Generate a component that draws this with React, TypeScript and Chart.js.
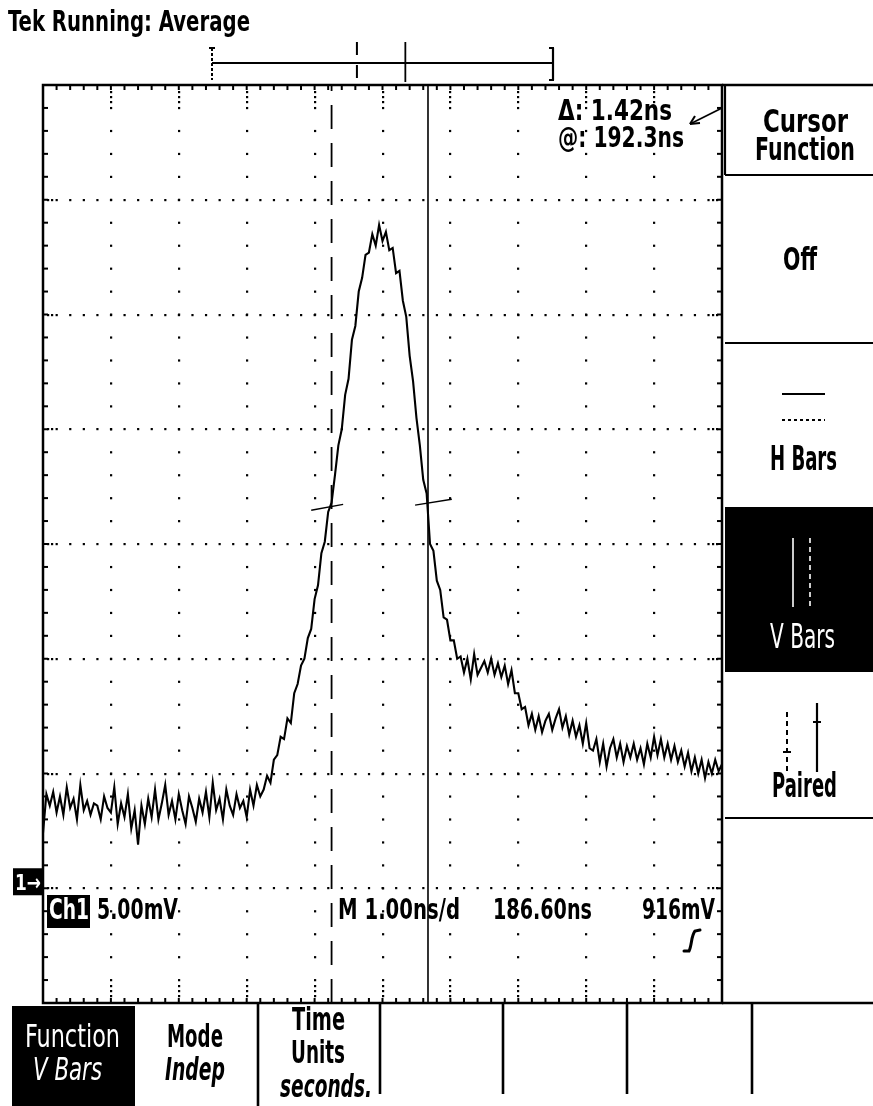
import React, { useEffect, useRef } from "react";
import { Chart, registerables } from "chart.js";

Chart.register(...registerables);

const W = 873;
const H = 1106;

// ---- Data (time in ns / divisions, voltage in mV, 5 mV/div) ----
const sampleStepNs = 0.05;
const traceMv = [
  2.4, 4.1, 3.6, 4.2, 3.3, 4.0, 3.2, 4.4, 3.5, 3.9,
  3.0, 4.5, 3.4, 3.8, 3.2, 3.7, 3.6, 3.0, 4.0, 3.5,
  3.3, 4.4, 2.8, 3.7, 3.1, 4.1, 2.6, 3.4, 1.9, 3.6,
  2.8, 3.9, 3.1, 4.3, 3.0, 3.7, 4.5, 3.2, 3.8, 3.0,
  4.1, 3.4, 2.8, 4.0, 3.5, 2.9, 3.9, 3.3, 4.2, 3.1,
  4.6, 3.4, 3.9, 3.0, 4.3, 3.6, 3.2, 4.1, 3.5, 3.8,
  3.1, 4.3, 3.6, 4.5, 4.0,
  4.3, 4.9, 4.6, 5.6, 5.8, 6.6, 6.5, 7.4, 7.2, 8.5,
  8.9, 9.7, 10.0, 10.9, 11.3, 12.6, 13.2, 14.6, 15.1, 16.4,
  16.8, 18.0, 19.3, 20.0, 21.5, 22.2, 23.9, 24.5, 26.0, 26.6,
  27.6, 27.7, 28.5, 28.0, 28.9, 28.2, 28.6, 27.8, 27.9, 26.8,
  26.9, 25.6, 24.9, 23.2, 22.1, 20.5, 19.3, 17.8, 17.2, 15.0,
  14.7, 13.4, 13.0, 11.8, 11.7, 10.8, 10.8, 10.0, 10.1, 9.4,
  10.0, 9.1, 10.2, 9.3, 9.6, 9.9, 9.4, 10.0, 9.3, 9.8,
  9.2, 9.7, 8.9, 9.5, 8.5, 8.5, 7.8, 7.9, 7.1, 7.6,
  6.9, 7.5, 6.8, 7.3, 7.6, 6.9, 7.4, 7.8, 7.0, 7.5,
  6.7, 7.3, 6.6, 7.1, 6.3, 7.2, 6.1, 6.0, 6.5, 5.5,
  6.3, 5.3, 6.1, 6.5, 5.7, 6.3, 5.5, 6.2, 5.7, 6.3,
  5.6, 6.1, 5.4, 6.3, 5.7, 6.6, 5.8, 6.5, 5.7, 6.3,
  5.6, 6.2, 5.5, 6.0, 5.3, 5.9, 5.1, 5.7, 5.0, 5.6,
  4.8, 5.5, 5.0, 5.6, 5.1, 5.4,
];

const xMinNs = 0;
const xMaxNs = 10;
const yMinMv = -5;
const yMaxMv = 35;
const xMajorNs = [1, 2, 3, 4, 5, 6, 7, 8, 9];
const yMajorMv = [0, 5, 10, 15, 20, 25, 30];
const xMinorStepNs = 0.2;
const yMinorStepMv = 1;
const groundMv = 0;

const cursorDashedNs = 4.25;
const cursorSolidNs = 5.67;
const crossDashedX = [3.95, 4.42];
const crossDashedY = [16.47, 16.73];
const crossSolidX = [5.48, 6.02];
const crossSolidY = [16.69, 16.95];

const readoutDelta = "Δ: 1.42ns";
const readoutAt = "@: 192.3ns";
const titleText = "Tek Running: Average";

const FONT = '"Liberation Sans Narrow", "DejaVu Sans Condensed", "Liberation Sans", "DejaVu Sans", sans-serif';

function txt(
  ctx: CanvasRenderingContext2D,
  s: string,
  left: number,
  right: number,
  baseline: number,
  size: number,
  opts: { bold?: boolean; italic?: boolean; color?: string } = {}
) {
  ctx.save();
  const bold = opts.bold === false ? "" : "bold ";
  const it = opts.italic ? "italic " : "";
  ctx.font = `${it}${bold}${size}px ${FONT}`;
  ctx.fillStyle = opts.color || "#000";
  ctx.textBaseline = "alphabetic";
  ctx.textAlign = "left";
  const w = ctx.measureText(s).width || 1;
  ctx.translate(left, baseline);
  ctx.scale((right - left) / w, 1);
  ctx.fillText(s, 0, 0);
  ctx.restore();
}

function line(ctx: CanvasRenderingContext2D, x1: number, y1: number, x2: number, y2: number, w = 2, color = "#000", dash: number[] = []) {
  ctx.save();
  ctx.strokeStyle = color;
  ctx.lineWidth = w;
  ctx.setLineDash(dash);
  ctx.beginPath();
  ctx.moveTo(x1, y1);
  ctx.lineTo(x2, y2);
  ctx.stroke();
  ctx.restore();
}

const graticulePlugin = {
  id: "graticule",
  beforeDatasetsDraw(chart: any) {
    const { ctx, chartArea: a, scales } = chart;
    const x = scales.x;
    const y = scales.y;
    ctx.save();
    ctx.fillStyle = "#000";
    for (const k of xMajorNs) {
      const px = Math.round(x.getPixelForValue(k));
      for (let v = yMinMv + yMinorStepMv; v < yMaxMv - 0.01; v += yMinorStepMv) {
        const py = y.getPixelForValue(v);
        ctx.fillRect(px - 1, py - 1, 2.2, 2.2);
      }
      for (const d of [7, 12, 17]) {
        ctx.fillRect(px - 1, a.top + d - 1, 2.2, 2.2);
        ctx.fillRect(px - 1, a.bottom - d - 1, 2.2, 2.2);
      }
    }
    for (const m of yMajorMv) {
      const py = Math.round(y.getPixelForValue(m));
      for (let t = xMinNs + xMinorStepNs; t < xMaxNs - 0.01; t += xMinorStepNs) {
        const px = x.getPixelForValue(t);
        ctx.fillRect(px - 1, py - 1, 2.2, 2.2);
      }
      for (const d of [5, 9]) {
        ctx.fillRect(a.left + d - 1, py - 1, 2.2, 2.2);
        ctx.fillRect(a.right - d - 1, py - 1, 2.2, 2.2);
      }
    }
    for (let t = xMinNs + xMinorStepNs; t < xMaxNs - 0.01; t += xMinorStepNs) {
      const px = x.getPixelForValue(t);
      ctx.fillRect(px - 1, a.top, 2, 5);
      ctx.fillRect(px - 1, a.bottom - 5, 2, 5);
    }
    for (let v = yMinMv + yMinorStepMv; v < yMaxMv - 0.01; v += yMinorStepMv) {
      const py = y.getPixelForValue(v);
      ctx.fillRect(a.left, py - 1, 5, 2);
      ctx.fillRect(a.right - 5, py - 1, 5, 2);
    }
    ctx.strokeStyle = "#000";
    ctx.lineWidth = 2.5;
    ctx.strokeRect(a.left, a.top, a.right - a.left, a.bottom - a.top);
    ctx.restore();
  },
};

const overlayPlugin = {
  id: "overlay",
  afterDraw(chart: any) {
    const { ctx, chartArea: a, scales } = chart;
    const y = scales.y;
    ctx.save();

    txt(ctx, titleText, 8, 250, 31, 28);

    const barL = 212;
    const barR = 553;
    const barY = 63;
    line(ctx, barL, barY, barR, barY, 2.2);
    line(ctx, barL, 48, barL, 80, 2, "#000", [3, 2]);
    line(ctx, barL - 3, 48, barL + 3, 48, 2);
    line(ctx, barR, 48, barR, 80, 2.2);
    line(ctx, barR - 4, 48, barR + 1, 48, 2);
    line(ctx, barR - 4, 80, barR + 1, 80, 2);
    const toBar = (t: number) => barL + ((t - xMinNs) / (xMaxNs - xMinNs)) * (barR - barL);
    line(ctx, toBar(cursorDashedNs), 42, toBar(cursorDashedNs), 82, 2, "#000", [13, 10]);
    line(ctx, toBar(cursorSolidNs), 42, toBar(cursorSolidNs), 82, 1.8);

    txt(ctx, readoutDelta, 558, 672, 120, 29);
    txt(ctx, readoutAt, 558, 684, 147, 29);
    line(ctx, 722, 108, 690, 124, 1.8);
    line(ctx, 690, 124, 700, 123, 2);
    line(ctx, 690, 124, 695, 116, 2);

    const gy = y.getPixelForValue(groundMv);
    ctx.fillStyle = "#000";
    ctx.fillRect(13, gy - 20, 30, 27);
    txt(ctx, "1→", 15, 41, gy + 2, 22, { color: "#fff" });
    ctx.fillStyle = "#000";
    ctx.fillRect(47, 895, 43, 33);
    txt(ctx, "Ch1", 49, 89, 919, 29, { color: "#fff" });
    txt(ctx, "5.00mV", 97, 178, 919, 29);
    txt(ctx, "M 1.00ns/d", 338, 460, 919, 29);
    txt(ctx, "186.60ns", 493, 592, 919, 29);
    txt(ctx, "916mV", 642, 715, 919, 29);
    ctx.save();
    ctx.strokeStyle = "#000";
    ctx.lineWidth = 3;
    ctx.lineCap = "round";
    ctx.beginPath();
    ctx.moveTo(684, 951);
    ctx.lineTo(689, 951);
    ctx.bezierCurveTo(692, 945, 691, 936, 695, 931);
    ctx.lineTo(700, 930);
    ctx.stroke();
    ctx.restore();

    line(ctx, a.right, a.top, W, a.top, 2.5);
    line(ctx, 725, a.top, 725, 175, 2.2);
    line(ctx, 725, 175, W, 175, 2.2);
    txt(ctx, "Cursor", 763, 848, 132, 32);
    txt(ctx, "Function", 755, 855, 160, 32);
    txt(ctx, "Off", 783, 817, 270, 32);
    line(ctx, 725, 343, W, 343, 2.2);
    line(ctx, 782, 394, 825, 394, 2);
    line(ctx, 782, 420, 825, 420, 2, "#000", [3, 3]);
    txt(ctx, "H Bars", 770, 837, 470, 34);
    ctx.fillStyle = "#000";
    ctx.fillRect(725, 507, W - 725, 165);
    line(ctx, 793, 538, 793, 607, 1.6, "#fff");
    line(ctx, 810, 538, 810, 607, 1.6, "#fff", [5, 4]);
    txt(ctx, "V Bars", 770, 835, 648, 34, { bold: false, color: "#fff" });
    line(ctx, 787, 712, 787, 773, 2, "#000", [5, 4]);
    line(ctx, 783, 752, 791, 752, 2);
    line(ctx, 817, 703, 817, 772, 2.2);
    line(ctx, 813, 722, 821, 722, 2);
    txt(ctx, "Paired", 772, 837, 797, 33);
    line(ctx, 725, 818, W, 818, 2.2);

    line(ctx, a.right, a.bottom, W, a.bottom, 2.5);
    ctx.fillStyle = "#000";
    ctx.fillRect(12, 1006, 123, H - 1006);
    txt(ctx, "Function", 25, 120, 1047, 32, { bold: false, color: "#fff" });
    txt(ctx, "V Bars", 33, 102, 1080, 32, { bold: false, italic: true, color: "#fff" });
    txt(ctx, "Mode", 167, 223, 1047, 32);
    txt(ctx, "Indep", 165, 225, 1080, 32, { italic: true });
    txt(ctx, "Time", 292, 345, 1030, 32);
    txt(ctx, "Units", 291, 345, 1063, 32);
    txt(ctx, "seconds.", 280, 372, 1097, 32, { italic: true });
    for (const sx of [258, 380, 503, 627, 752]) {
      line(ctx, sx, a.bottom, sx, sx === 258 ? H : 1094, 2.6);
    }

    ctx.restore();
  },
};

export default function App() {
  const ref = useRef<HTMLCanvasElement>(null);
  useEffect(() => {
    const canvas = ref.current;
    if (!canvas) return;
    const traceData = traceMv.map((v, i) => ({ x: i * sampleStepNs, y: v }));
    const chart = new Chart(canvas, {
      type: "line",
      data: {
        datasets: [
          {
            data: traceData,
            borderColor: "#000",
            borderWidth: 2.1,
            pointRadius: 0,
            tension: 0,
            fill: false,
          },
          {
            data: [
              { x: cursorDashedNs, y: yMinMv },
              { x: cursorDashedNs, y: yMaxMv },
            ],
            borderColor: "#000",
            borderWidth: 1.8,
            borderDash: [24, 14],
            pointRadius: 0,
          },
          {
            data: [
              { x: cursorSolidNs, y: yMinMv },
              { x: cursorSolidNs, y: yMaxMv },
            ],
            borderColor: "#000",
            borderWidth: 1.6,
            pointRadius: 0,
          },
          {
            data: crossDashedX.map((t, i) => ({ x: t, y: crossDashedY[i] })),
            borderColor: "#000",
            borderWidth: 1.3,
            pointRadius: 0,
          },
          {
            data: crossSolidX.map((t, i) => ({ x: t, y: crossSolidY[i] })),
            borderColor: "#000",
            borderWidth: 1.3,
            pointRadius: 0,
          },
        ],
      },
      options: {
        animation: false,
        responsive: false,
        maintainAspectRatio: false,
        devicePixelRatio: 1,
        layout: { padding: { left: 43, top: 85, right: W - 722, bottom: H - 1003 } },
        scales: {
          x: { type: "linear", min: xMinNs, max: xMaxNs, display: false },
          y: { type: "linear", min: yMinMv, max: yMaxMv, display: false },
        },
        plugins: { legend: { display: false }, tooltip: { enabled: false }, title: { display: false } },
        events: [],
      },
      plugins: [graticulePlugin, overlayPlugin],
    });
    return () => chart.destroy();
  }, []);
  return (
    <div style={{ position: "absolute", left: 0, top: 0, width: W, height: H, background: "#fff" }}>
      <canvas ref={ref} width={W} height={H} style={{ width: W, height: H, display: "block" }} />
    </div>
  );
}
